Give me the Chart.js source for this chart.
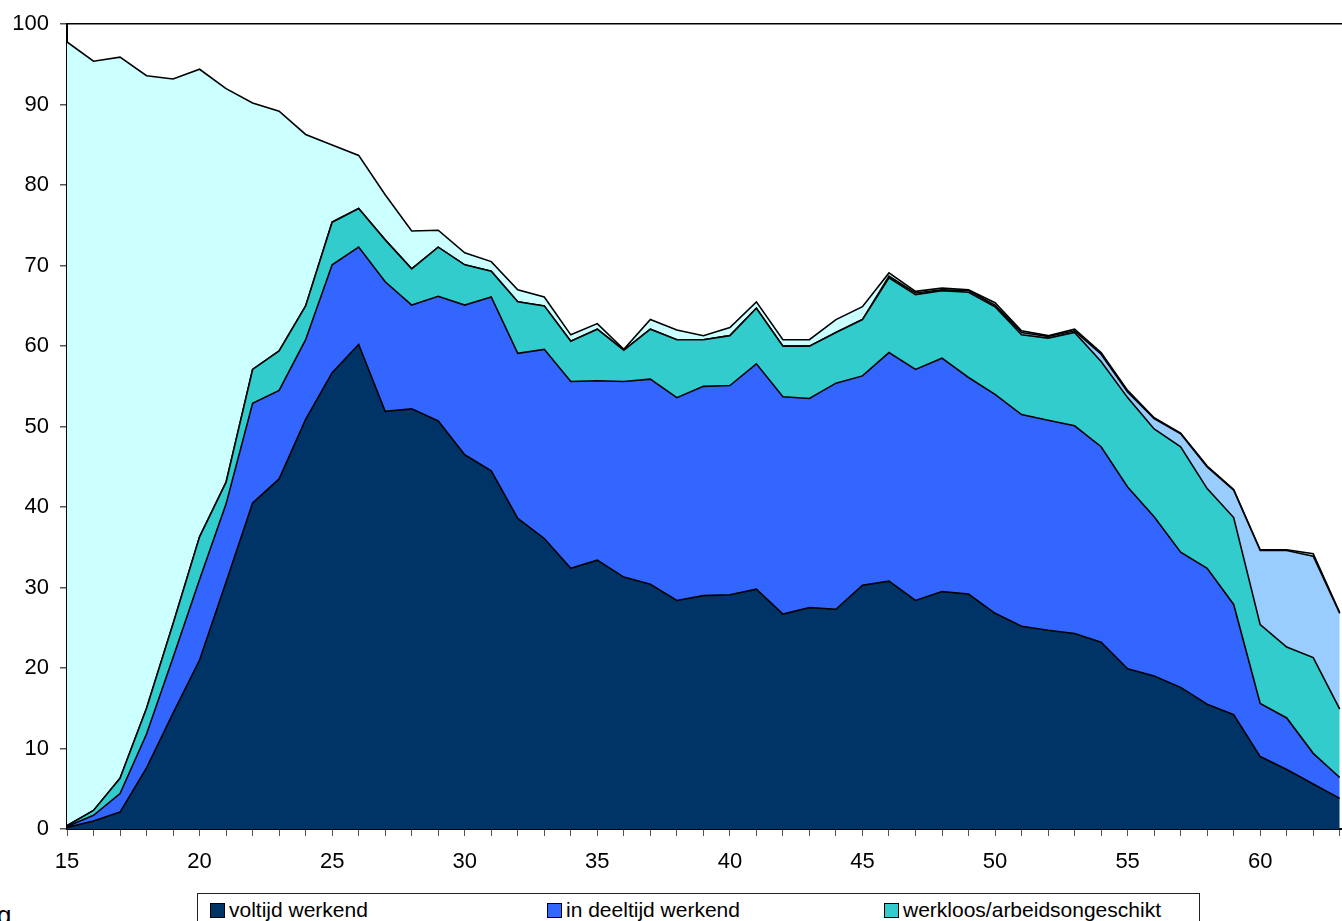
<!DOCTYPE html>
<html>
<head>
<meta charset="utf-8">
<script src="https://cdn.jsdelivr.net/npm/chart.js@4/dist/chart.umd.min.js"></script>
<style>
    html, body { margin: 0; padding: 0; background: #fff; }
    body { width: 1342px; height: 921px; overflow: hidden; position: relative; font-family: "Liberation Sans", Arial, sans-serif; }
    #chartBox { position: absolute; left: 0; top: 0; width: 1418px; height: 880px; }
    #legend { position: absolute; left: 197px; top: 893px; width: 1003px; height: 70px; border: 1px solid #222; box-sizing: border-box; }
    .item { position: absolute; font-size: 21px; line-height: 24px; white-space: nowrap; color: #000; }
    .item span { display: inline-block; width: 13px; height: 13px; border: 1px solid #000; margin-right: 4px; vertical-align: -1px; }
    #stray { position: absolute; left: -3px; top: 900px; font-size: 26px; color: #000; }
</style>
</head>
<body>
<div id="chartBox"><canvas id="chart"></canvas></div>
<div id="legend"></div>
<div id="stray">g</div>
<script>
// leeftijd (jaren)
const ages = [15, 16, 17, 18, 19, 20, 21, 22, 23, 24, 25, 26, 27, 28, 29, 30, 31, 32, 33, 34, 35, 36, 37, 38, 39,
    40, 41, 42, 43, 44, 45, 46, 47, 48, 49, 50, 51, 52, 53, 54, 55, 56, 57, 58, 59, 60, 61, 62, 63];

// percentages per groep (gestapeld)
const voltijd = [0.2, 1.0, 2.1, 7.6, 14.4, 21.0, 30.7, 40.5, 43.5, 50.9, 56.7, 60.2, 51.9, 52.2, 50.7, 46.5, 44.5,
    38.6, 36.1, 32.4, 33.4, 31.3, 30.4, 28.4, 29.0, 29.1, 29.8, 26.7, 27.5, 27.3, 30.3, 30.8, 28.4, 29.5, 29.2,
    26.8, 25.2, 24.7, 24.3, 23.2, 19.9, 19.0, 17.6, 15.5, 14.2, 9.0, 7.4, 5.6, 3.8];
const deeltijd = [0.1, 0.7, 2.3, 4.2, 6.9, 10.0, 9.7, 12.4, 11.0, 9.9, 13.4, 12.1, 16.1, 12.9, 15.5, 18.6, 21.6,
    20.5, 23.5, 23.2, 22.3, 24.3, 25.5, 25.2, 26.0, 26.0, 28.0, 27.0, 26.0, 28.1, 26.0, 28.4, 28.7, 29.0, 26.9,
    27.2, 26.3, 26.1, 25.8, 24.3, 22.6, 19.8, 16.8, 16.9, 13.7, 6.6, 6.4, 3.8, 2.6];
const werkloos = [0.1, 0.6, 1.9, 3.2, 4.2, 5.3, 2.7, 4.2, 4.9, 4.2, 5.3, 4.8, 5.2, 4.5, 6.1, 5.0, 3.2,
    6.4, 5.4, 5.0, 6.4, 3.9, 6.2, 7.2, 5.8, 6.2, 6.9, 6.3, 6.5, 6.3, 7.0, 9.3, 9.3, 8.4, 10.6,
    10.9, 9.9, 10.2, 11.6, 10.6, 11.1, 10.9, 13.1, 9.9, 10.8, 9.8, 8.8, 11.9, 8.5];
const pensioen = [0, 0, 0, 0, 0, 0, 0, 0, 0, 0, 0, 0, 0, 0, 0, 0, 0,
    0, 0, 0, 0, 0, 0, 0, 0, 0, 0, 0, 0, 0, 0, 0.2, 0.2, 0.1, 0.2,
    0.2, 0.3, 0.2, 0.2, 0.9, 0.7, 1.3, 1.6, 2.7, 3.4, 9.2, 12.0, 12.6, 11.9];
const studerend = [97.4, 93.1, 89.6, 78.6, 67.7, 58.1, 48.9, 33.1, 29.8, 21.3, 9.6, 6.6, 5.6, 4.7, 2.1, 1.5, 1.2,
    1.5, 1.1, 0.8, 0.7, 0.1, 1.2, 1.2, 0.5, 1.0, 0.8, 0.8, 0.8, 1.6, 1.6, 0.4, 0.2, 0.2, 0.1,
    0.3, 0.2, 0.1, 0.2, 0.2, 0.2, 0.1, 0.1, 0.1, 0.1, 0.1, 0.1, 0.3, 0.1];

const seriesNames = ["voltijd werkend", "in deeltijd werkend", "werkloos/arbeidsongeschikt", "(vervroegd) gepensioneerd", "onderwijs volgend"];
const seriesColors = ["#003366", "#3366FF", "#33CCCC", "#99CCFF", "#CCFFFF"];

document.addEventListener("DOMContentLoaded", function () {
    const allSeries = [voltijd, deeltijd, werkloos, pensioen, studerend];

    const datasets = allSeries.map(function (values, i) {
        return {
            label: seriesNames[i],
            data: values.map(function (v, j) { return { x: ages[j], y: v }; }),
            backgroundColor: seriesColors[i],
            borderColor: "#000",
            borderWidth: 1.6,
            pointRadius: 0,
            tension: 0,
            fill: i === 0 ? "origin" : "-1"
        };
    });

    new Chart(document.getElementById("chart"), {
        type: "line",
        data: { datasets: datasets },
        options: {
            responsive: true,
            maintainAspectRatio: false,
            animation: false,
            layout: { padding: { top: 20, left: 0, right: 0, bottom: 0 } },
            plugins: { legend: { display: false }, tooltip: { enabled: false } },
            scales: {
                x: {
                    type: "linear",
                    min: 15,
                    max: 65,
                    afterFit: function (scale) { scale.height = 51; },
                    border: { color: "#000", width: 2 },
                    grid: { drawOnChartArea: false, tickLength: 7, tickColor: "#555" },
                    ticks: {
                        stepSize: 1,
                        autoSkip: false,
                        maxRotation: 0,
                        padding: 13,
                        color: "#000",
                        font: { family: "Liberation Sans", size: 22 },
                        callback: function (value) { return value % 5 === 0 ? String(value) : ""; }
                    }
                },
                y: {
                    stacked: true,
                    min: 0,
                    max: 100,
                    afterFit: function (scale) { scale.width = 67; },
                    border: { color: "#000", width: 2 },
                    grid: {
                        color: function (c) { return c.tick && c.tick.value === 100 ? "#000" : "rgba(0,0,0,0)"; },
                        lineWidth: 1.5,
                        tickLength: 7,
                        tickColor: "#555"
                    },
                    ticks: {
                        stepSize: 10,
                        padding: 11,
                        color: "#000",
                        font: { family: "Liberation Sans", size: 22 }
                    }
                }
            }
        }
    });

    // legenda (onderkant valt buiten beeld)
    const legend = document.getElementById("legend");
    seriesNames.forEach(function (name, i) {
        const item = document.createElement("div");
        item.className = "item";
        item.style.left = (12 + (i % 3) * 337) + "px";
        item.style.top = (4 + Math.floor(i / 3) * 28) + "px";
        item.innerHTML = '<span style="background:' + seriesColors[i] + '"></span>' + name;
        legend.appendChild(item);
    });
});
</script>
</body>
</html>
